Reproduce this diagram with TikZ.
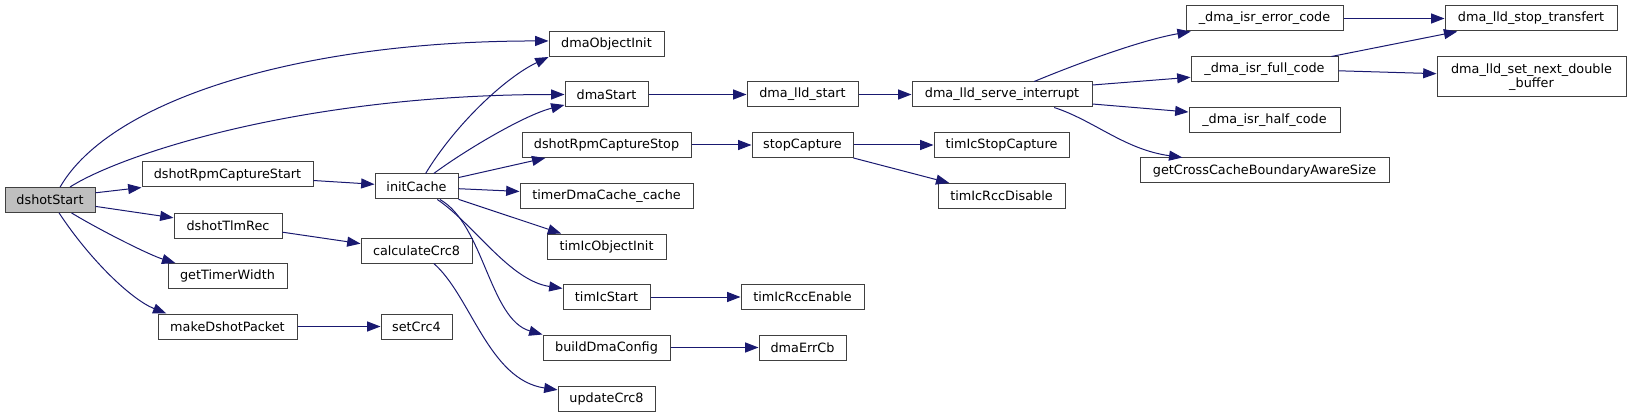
\documentclass[tikz,border=0pt]{standalone}
\usepackage{fontspec}
\setmainfont{DejaVu Sans}
\usetikzlibrary{arrows.meta}
\definecolor{callBlue}{RGB}{25,25,112}
\definecolor{boxGray}{RGB}{64,64,64}
\definecolor{rootGray}{RGB}{191,191,191}

\begin{document}
\begin{tikzpicture}[x=0.75pt,y=-0.75pt,
  fn/.style={draw=boxGray, line width=0.75pt, fill=white, inner sep=0pt,
    minimum height=18.75pt, font=\fontsize{9.6}{11}\selectfont},
  bw/.style={minimum width=#1*0.75pt},
  call/.style={callBlue, line width=0.75pt, -{Triangle[length=10pt,width=7.5pt]}}]
\useasboundingbox (0,0) rectangle (1631,417);

% functions
\node[fn, bw=90, fill=rootGray] (dshotStart) at (50,200) {dshotStart};
\node[fn, bw=171] (dshotRpmCaptureStart) at (227.5,174.5) {dshotRpmCaptureStart};
\node[fn, bw=108] (dshotTlmRec) at (228,225.5) {dshotTlmRec};
\node[fn, bw=119] (getTimerWidth) at (227.5,276) {getTimerWidth};
\node[fn, bw=139] (makeDshotPacket) at (227.5,326.5) {makeDshotPacket};
\node[fn, bw=83] (initCache) at (416.5,186.5) {initCache};
\node[fn, bw=111] (calculateCrc8) at (416.5,250.5) {calculateCrc8};
\node[fn, bw=71] (setCrc4) at (416.5,326.5) {setCrc4};
\node[fn, bw=115] (dmaObjectInit) at (606.5,44) {dmaObjectInit};
\node[fn, bw=83] (dmaStart) at (606.5,94.5) {dmaStart};
\node[fn, bw=169] (dshotRpmCaptureStop) at (606.5,145) {dshotRpmCaptureStop};
\node[fn, bw=173] (timerDmaCache) at (606.5,196) {timerDmaCache\_cache};
\node[fn, bw=119] (timIcObjectInit) at (606.5,246.5) {timIcObjectInit};
\node[fn, bw=87] (timIcStart) at (606.5,297) {timIcStart};
\node[fn, bw=127] (buildDmaConfig) at (606.5,347.5) {buildDmaConfig};
\node[fn, bw=97] (updateCrc8) at (606.5,398.5) {updateCrc8};
\node[fn, bw=111] (dmaLldStart) at (802.5,94.5) {dma\_lld\_start};
\node[fn, bw=101] (stopCapture) at (802.5,145) {stopCapture};
\node[fn, bw=123] (timIcRccEnable) at (802.5,297) {timIcRccEnable};
\node[fn, bw=87] (dmaErrCb) at (802.5,347.5) {dmaErrCb};
\node[fn, bw=180] (dmaLldServe) at (1002,94.5) {dma\_lld\_serve\_interrupt};
\node[fn, bw=135] (timIcStopCapture) at (1001.5,145) {timIcStopCapture};
\node[fn, bw=127] (timIcRccDisable) at (1001.5,196) {timIcRccDisable};
\node[fn, bw=157] (isrError) at (1264.5,18.5) {\_dma\_isr\_error\_code};
\node[fn, bw=147] (isrFull) at (1264.5,69.5) {\_dma\_isr\_full\_code};
\node[fn, bw=151] (isrHalf) at (1264.5,120) {\_dma\_isr\_half\_code};
\node[fn, bw=249] (crossCache) at (1264.5,170.5) {getCrossCacheBoundaryAwareSize};
\node[fn, bw=172] (stopTransfert) at (1531,18.5) {dma\_lld\_stop\_transfert};
\node[fn, bw=189, minimum height=30pt, align=center] (setNextBuffer) at (1531.5,77)
  {dma\_lld\_set\_next\_double\\\_buffer};

% calls
\draw[call] (dshotStart.52) .. controls +(50,-87) and +(-249,0) .. (dmaObjectInit.177);
\draw[call] (dshotStart.33) .. controls +(50,-32) and +(-265,0) .. (dmaStart.west);
\draw[call] (dshotStart.9) -- (dshotRpmCaptureStart.south west);
\draw[call] (dshotStart.-8) -- (dshotTlmRec.172);
\draw[call] (dshotStart.-31) .. controls +(28,17) and +(-26,-8) .. (getTimerWidth.166);
\draw[call] (dshotStart.-55) .. controls +(31,47) and +(-35,-14) .. (makeDshotPacket.168);
\draw[call] (dshotRpmCaptureStart.-4) -- (initCache.177);
\draw[call] (dshotTlmRec.-7) -- (calculateCrc8.173);
\draw[call] (makeDshotPacket.east) -- (setCrc4.west);
\draw[call] (calculateCrc8.-37) .. controls +(37,32) and +(-69,-10) .. (updateCrc8.170);
\draw[call] (initCache.55) .. controls +(29,-48) and +(-44,21) .. (dmaObjectInit.south west);
\draw[call] (initCache.37) .. controls +(31,-23) and +(-40,10) .. (dmaStart.194);
\draw[call] (initCache.12) -- (dshotRpmCaptureStop.192);
\draw[call] (initCache.-3) -- (timerDmaCache.177);
\draw[call] (initCache.-17) -- (timIcObjectInit.164);
\draw[call] (initCache.-32) .. controls +(37,25) and +(-53,-8) .. (timIcStart.169);
\draw[call] (initCache.-29) .. controls +(44,25) and +(-53,-15) .. (buildDmaConfig.north west);
\draw[call] (dmaStart.east) -- (dmaLldStart.west);
\draw[call] (dmaLldStart.east) -- (dmaLldServe.west);
\draw[call] (dshotRpmCaptureStop.east) -- (stopCapture.west);
\draw[call] (stopCapture.east) -- (timIcStopCapture.west);
\draw[call] (stopCapture.south east) -- (timIcRccDisable.166);
\draw[call] (timIcStart.east) -- (timIcRccEnable.west);
\draw[call] (buildDmaConfig.east) -- (dmaErrCb.west);
\draw[call] (dmaLldServe.22) .. controls +(36,-15) and +(-52,9) .. (isrError.190);
\draw[call] (dmaLldServe.6) -- (isrFull.186);
\draw[call] (dmaLldServe.-6) -- (isrHalf.174);
\draw[call] (dmaLldServe.-14) .. controls +(40,13) and +(-58,-8) .. (crossCache.171);
\draw[call] (isrError.east) -- (stopTransfert.west);
\draw[call] (isrFull.11) -- (stopTransfert.190);
\draw[call] (isrFull.-1) -- (setNextBuffer.178);
\end{tikzpicture}
\end{document}
